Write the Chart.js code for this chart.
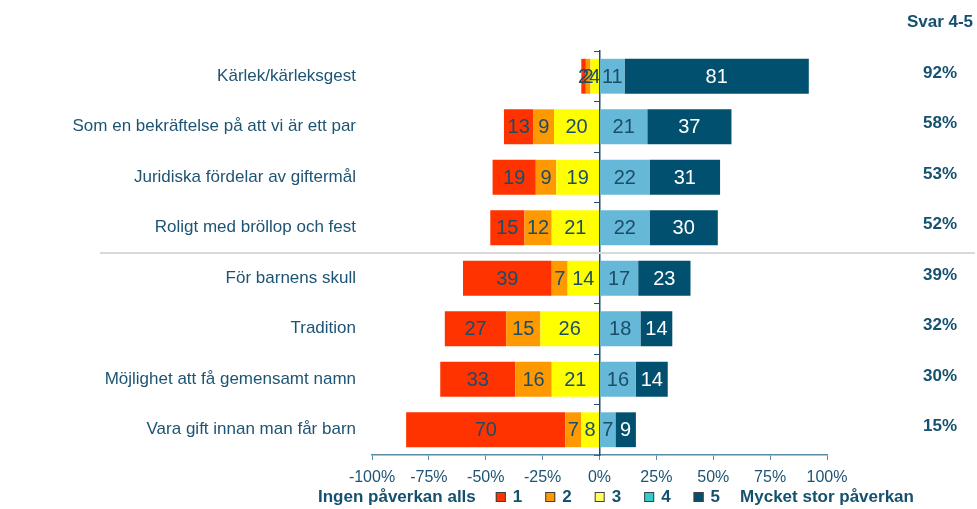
<!DOCTYPE html>
<html><head><meta charset="utf-8">
<script src="https://cdn.jsdelivr.net/npm/chart.js@4/dist/chart.umd.min.js"></script>
<style>html,body{margin:0;padding:0;background:#fff;} #wrap{width:977px;height:509px;position:relative;}</style>
</head><body><div id="wrap"><canvas id="c"></canvas></div>
<script>
const categories = ["Kärlek/kärleksgest","Som en bekräftelse på att vi är ett par","Juridiska fördelar av giftermål","Roligt med bröllop och fest","För barnens skull","Tradition","Möjlighet att få gemensamt namn","Vara gift innan man får barn"];
const svar1 = [2,13,19,15,39,27,33,70];
const svar2 = [2,9,9,12,7,15,16,7];
const svar3 = [4,20,19,21,14,26,21,8];
const svar4 = [11,21,22,22,17,18,16,7];
const svar5 = [81,37,31,30,23,14,14,9];
const svar45 = [92,58,53,52,39,32,30,15];
const xTicks = [-100,-75,-50,-25,0,25,50,75,100];
const legendLabels = ["1","2","3","4","5"];
const legendLeft = "Ingen påverkan alls";
const legendRight = "Mycket stor påverkan";
const columnTitle = "Svar 4-5";

const FONT = '"Liberation Sans", Arial, sans-serif';
const TXT = '#1d5473';
const barColors = {1:'#FF3300',2:'#FF9900',3:'#FFFF00',4:'#66B8D8',5:'#02506F'};
const legendColors = ['#FF3300','#FF9900','#FFFF66','#33CCCC','#02506F'];

const neg = a => a.map(v => -v);
const datasets = [
  {label:'3', data:neg(svar3), backgroundColor:barColors[3], key:3},
  {label:'2', data:neg(svar2), backgroundColor:barColors[2], key:2},
  {label:'1', data:neg(svar1), backgroundColor:barColors[1], key:1},
  {label:'4', data:svar4, backgroundColor:barColors[4], key:4},
  {label:'5', data:svar5, backgroundColor:barColors[5], key:5}
].map(d => Object.assign(d, {borderWidth:0, categoryPercentage:1, barPercentage:0.69}));

const extras = {
  id:'extras',
  beforeDatasetsDraw(chart){
    const ctx = chart.ctx, y = chart.scales.y;
    const sy = (y.getPixelForValue(3) + y.getPixelForValue(4)) / 2;
    ctx.save();
    ctx.strokeStyle = '#d9d9d9'; ctx.lineWidth = 2;
    ctx.beginPath(); ctx.moveTo(100, sy); ctx.lineTo(975, sy); ctx.stroke();
    ctx.restore();
  },
  afterDatasetsDraw(chart){
    const ctx = chart.ctx;
    ctx.save();
    ctx.font = '20px ' + FONT;
    ctx.textAlign = 'center'; ctx.textBaseline = 'middle';
    chart.data.datasets.forEach((ds, di) => {
      const meta = chart.getDatasetMeta(di);
      meta.data.forEach((el, i) => {
        const v = Math.abs(ds.data[i]);
        ctx.fillStyle = ds.key === 5 ? '#ffffff' : '#1b4d68';
        ctx.fillText(String(v), (el.x + el.base) / 2, el.y + 1);
      });
    });
    // right column
    const y = chart.scales.y;
    ctx.font = 'bold 17px ' + FONT;
    ctx.fillStyle = '#15516f';
    ctx.fillText(columnTitle, 940, 22);
    svar45.forEach((v, i) => ctx.fillText(v + '%', 940, y.getPixelForValue(i) - 3));
    // legend
    ctx.textAlign = 'left';
    let x = 318; const ly = 497;
    ctx.fillText(legendLeft, x, ly);
    x += ctx.measureText(legendLeft).width + 20;
    legendLabels.forEach((t, i) => {
      ctx.fillStyle = legendColors[i];
      ctx.fillRect(x, ly - 5, 10, 10);
      ctx.strokeStyle = '#404040'; ctx.lineWidth = 1;
      ctx.strokeRect(x + 0.5, ly - 4.5, 9, 9);
      ctx.fillStyle = '#15516f';
      ctx.fillText(t, x + 17, ly);
      x += 17 + ctx.measureText(t).width + 23;
    });
    x -= 3;
    ctx.fillText(legendRight, x, ly);
    ctx.restore();
  }
};

new Chart(document.getElementById('c'), {
  type:'bar',
  data:{labels:categories, datasets},
  options:{
    indexAxis:'y', responsive:true, maintainAspectRatio:false, animation:false,
    layout:{padding:{top:51, right:150, left:0, bottom:0}},
    plugins:{legend:{display:false}, tooltip:{enabled:false}},
    scales:{
      x:{type:'linear', stacked:true, min:-100, max:100,
        afterBuildTicks: s => { s.ticks = xTicks.map(v => ({value:v})); },
        afterFit: s => { s.height = 54; },
        ticks:{callback: v => v + '%', color:TXT, font:{size:16, family:FONT}, padding:8, maxRotation:0},
        grid:{drawOnChartArea:false, drawTicks:true, tickLength:5, color:'#5a8aa5'},
        border:{display:true, color:'#5a8aa5', width:1.5}},
      y:{type:'category', stacked:true, offset:true,
        afterFit: s => { s.width = 372; },
        ticks:{color:TXT, font:{size:17, family:FONT}, padding:8},
        grid:{display:false}, border:{display:false}},
      y2:{type:'category', labels:categories, offset:true, position:{x:0},
        ticks:{display:false},
        grid:{display:true, drawOnChartArea:false, offset:true, tickLength:5, color:'#1f4e6e'},
        border:{display:true, color:'#1f4e6e', width:1.5}}
    }
  },
  plugins:[extras]
});
</script></body></html>
